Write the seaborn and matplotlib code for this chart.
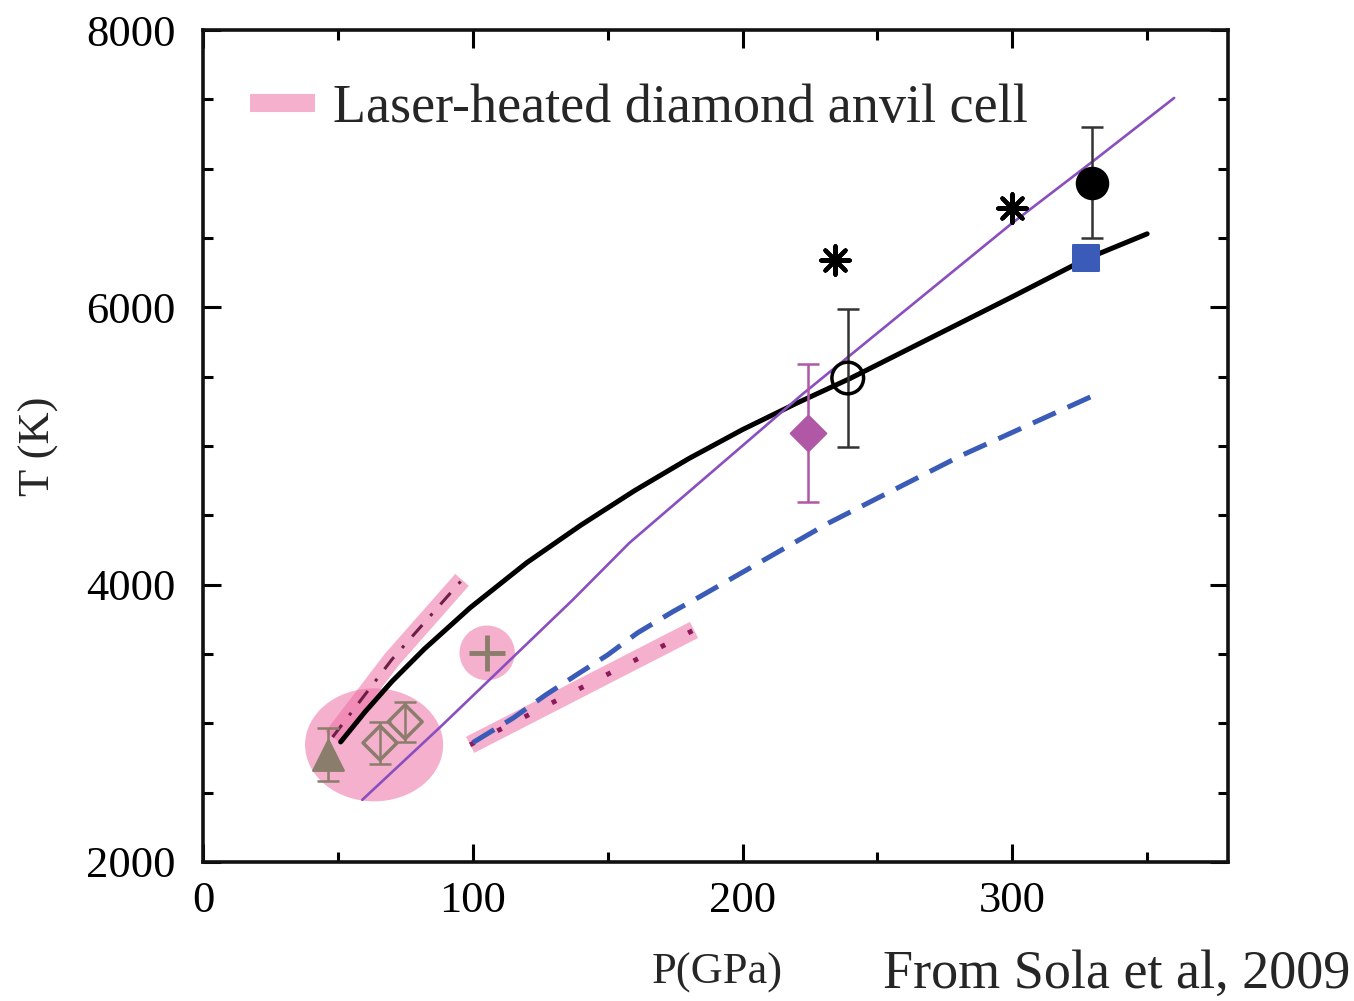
import numpy as np
import pandas as pd
import matplotlib
matplotlib.use("Agg")
import matplotlib.pyplot as plt
from matplotlib.patches import Ellipse
from matplotlib.lines import Line2D
import seaborn as sns

# ---- data -------------------------------------------------------------
# melting curve (black, solid)
melt_P = [51, 60, 70, 82, 99, 120, 140, 160, 180, 200, 220, 240, 270, 300, 327, 350]
melt_T = [2865, 3081, 3301, 3535, 3833, 4158, 4428, 4678, 4908, 5118, 5308, 5488,
          5782, 6076, 6346, 6530]

# purple solid line
purple_P = [59, 88, 137, 158, 222, 300, 330, 360]
purple_T = [2447, 2974, 3889, 4300, 5370, 6608, 7055, 7510]

# blue dashed line
blue_P = [100, 115, 127, 139, 150, 161, 174, 184, 232, 281, 333]
blue_T = [2860, 3038, 3204, 3356, 3493, 3651, 3803, 3911, 4445, 4930, 5389]

# laser-heated DAC bands
band_hi_P = [48, 70, 96]
band_hi_T = [2900, 3460, 4034]
band_lo_P = [99, 182]
band_lo_T = [2844, 3673]

# point measurements
tri_P, tri_T, tri_err = [46.3], [2772], [190]
odia_P, odia_T, odia_err = [65.6, 74.9], [2858, 3010], [150, 145]
plus_P, plus_T = [105.3], [3507]
mdia_P, mdia_T, mdia_err = [224.3], [5094], [500]
ocirc_P, ocirc_T, ocirc_err = [239], [5490], [500]
star_P, star_T = [234.3, 300], [6341, 6716]
fcirc_P, fcirc_T, fcirc_err = [329.6], [6897], [400]
sq_P, sq_T, sq_err = [327.4], [6356], [60]

# highlighted regions (centre P, centre T, width P, height T)
ell_big = (63.4, 2844, 51.2, 815)
ell_plus = (105.3, 3507, 20.5, 395)

# ---- style ------------------------------------------------------------
sns.set_theme(style="ticks")
plt.rcParams["font.family"] = ["Liberation Serif", "DejaVu Serif"]

PINK = "#ee6fa5"
TAUPE = "#8b7d6b"
PURPLE = "#8a4fbf"
BLUE = "#3a5cb8"
MAGENTA = "#b058a6"

fig = plt.figure(figsize=(13.54, 10.01), dpi=100)
ax = fig.add_axes([0.150, 0.139, 0.757, 0.831])

# pink highlight regions
for cx, cy, w, h in (ell_big, ell_plus):
    ax.add_patch(Ellipse((cx, cy), w, h, facecolor=PINK, alpha=0.55,
                         edgecolor="none", zorder=1))

band_kw = dict(color=PINK, alpha=0.55, lw=13, sort=False, estimator=None,
               legend=False, zorder=1.5)
sns.lineplot(x=band_hi_P, y=band_hi_T, ax=ax, **band_kw)
sns.lineplot(x=band_lo_P, y=band_lo_T, ax=ax, **band_kw)
for ln in ax.lines:
    ln.set_solid_capstyle("butt")

# lines inside the bands
sns.lineplot(x=band_hi_P, y=band_hi_T, ax=ax, color="#6b1f45", lw=2.2,
             sort=False, estimator=None, legend=False, zorder=2,
             linestyle=(0, (5, 4, 1, 4)))
sns.lineplot(x=band_lo_P, y=band_lo_T, ax=ax, color="#8b1a5a", lw=3.5,
             sort=False, estimator=None, legend=False, zorder=2,
             linestyle=(0, (1, 5.3)))

# curves
sns.lineplot(x=blue_P, y=blue_T, ax=ax, color=BLUE, lw=3.6, sort=False,
             estimator=None, legend=False, zorder=3, linestyle=(0, (5, 2.6)))
sns.lineplot(x=melt_P, y=melt_T, ax=ax, color="black", lw=3.6, sort=False,
             estimator=None, legend=False, zorder=4)
sns.lineplot(x=purple_P, y=purple_T, ax=ax, color=PURPLE, lw=1.9, sort=False,
             estimator=None, legend=False, zorder=5)

# error bars
eb_kw = dict(fmt="none", elinewidth=1.8, capsize=8, capthick=1.8, zorder=6)
ax.errorbar(tri_P, tri_T, yerr=tri_err, ecolor=TAUPE, **eb_kw)
ax.errorbar(odia_P, odia_T, yerr=odia_err, ecolor=TAUPE, **eb_kw)
ax.errorbar(mdia_P, mdia_T, yerr=mdia_err, ecolor=MAGENTA, **eb_kw)
ax.errorbar(ocirc_P, ocirc_T, yerr=ocirc_err, ecolor="#333333", **eb_kw)
ax.errorbar(fcirc_P, fcirc_T, yerr=fcirc_err, ecolor="#333333", **eb_kw)
ax.errorbar(sq_P, sq_T, yerr=sq_err, ecolor=BLUE, **eb_kw)

# point markers
sns.scatterplot(x=tri_P, y=tri_T, ax=ax, marker="^", s=480, color=TAUPE,
                edgecolor=TAUPE, zorder=7)
sns.scatterplot(x=odia_P, y=odia_T, ax=ax, marker="D", s=300, facecolor="none",
                edgecolor=TAUPE, linewidth=2.5, zorder=7)
sns.scatterplot(x=plus_P, y=plus_T, ax=ax, marker="+", s=650, color=TAUPE,
                linewidth=3.5, zorder=7)
sns.scatterplot(x=mdia_P, y=mdia_T, ax=ax, marker="D", s=330, color=MAGENTA,
                edgecolor=MAGENTA, zorder=7)
sns.scatterplot(x=ocirc_P, y=ocirc_T, ax=ax, marker="o", s=520,
                facecolor="none", edgecolor="black", linewidth=2.5, zorder=7)
sns.scatterplot(x=star_P, y=star_T, ax=ax, marker=(8, 2, 0), s=420,
                color="black", linewidth=3, zorder=7)
sns.scatterplot(x=fcirc_P, y=fcirc_T, ax=ax, marker="o", s=500, color="black",
                edgecolor="black", zorder=7)
sns.scatterplot(x=sq_P, y=sq_T, ax=ax, marker="s", s=330, color=BLUE,
                edgecolor=BLUE, zorder=7)

# axes
ax.set_xlim(0, 380)
ax.set_ylim(2000, 8000)
ax.set_xticks([0, 100, 200, 300])
ax.set_xticks([50, 150, 250, 350], minor=True)
ax.set_yticks([2000, 4000, 6000, 8000])
ax.set_yticks([2500, 3000, 3500, 4500, 5000, 5500, 6500, 7000, 7500], minor=True)
ax.tick_params(which="both", direction="in", top=True, right=True,
               width=2.2, colors="black")
ax.tick_params(which="major", length=13, labelsize=32, pad=14)
ax.tick_params(which="minor", length=7)
ax.tick_params(axis="y", which="major", pad=20)
for sp in ax.spines.values():
    sp.set_linewidth(2.6)
    sp.set_color("#111111")

ax.set_xlabel("")
ax.set_ylabel("T (K)", fontsize=32)
ax.yaxis.set_label_coords(-0.141, 0.5)

fig.text(0.530, 0.028, "P(GPa)", fontsize=32, ha="center", va="center")
fig.text(0.997, 0.026, "From Sola et al, 2009", fontsize=39, ha="right",
         va="center")

handle = Line2D([], [], color=PINK, alpha=0.55, lw=13, solid_capstyle="butt")
ax.legend([handle], ["Laser-heated diamond anvil cell"], loc="upper left",
          bbox_to_anchor=(0.025, 0.962), frameon=False, fontsize=39,
          handlelength=1.2, handletextpad=0.32, borderaxespad=0)

fig.savefig("out.png", dpi=100)
